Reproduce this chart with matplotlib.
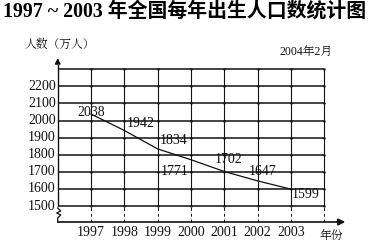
import matplotlib
matplotlib.use("Agg")
import matplotlib.pyplot as plt
import numpy as np

years = [1997, 1998, 1999, 2000, 2001, 2002, 2003]
births = [2038, 1942, 1834, 1771, 1702, 1647, 1599]
y_ticks = [1500, 1600, 1700, 1800, 1900, 2000, 2100, 2200]
title = "1997 ~ 2003 年全国每年出生人口数统计图"
ylabel = "人数（万人）"
xlabel = "年份"
date_note = "2004年2月"

# label offsets (pixels) for each value label: (dx, dy, ha), va='center'
label_pos = [(0, 2, 'center'), (2, 6.5, 'left'), (2, 8, 'left'), (-30, -12, 'left'),
             (-9, 11.5, 'left'), (-9, 9, 'left'), (1, -5, 'left')]

W, H = 369, 242
fig = plt.figure(figsize=(W / 100, H / 100), dpi=100)
ax = fig.add_axes([0, 0, 1, 1])
ax.set_axis_off()

# pixel mapping
x0_px, px_per_year = 57.7, 33.3
y1500_px, px_per_100 = 206.0, 17.09
xlim = (1996 - x0_px / px_per_year, 1996 + (W - x0_px) / px_per_year)
ylim = (1500 - (H - y1500_px) / px_per_100 * 100, 1500 + y1500_px / px_per_100 * 100)
ax.set_xlim(*xlim)
ax.set_ylim(*ylim)

serif = ['Liberation Serif', 'Noto Serif CJK SC', 'Noto Sans CJK SC']
col = '#111111'

def py(v):  # pixels -> data units for y
    return v / px_per_100 * 100
def px(v):
    return v / px_per_year

x_axis_y = 1500 - py(16)
top = 2300
left = 1996
right = 2004

# horizontal grid lines
for v in y_ticks + [2300]:
    ax.plot([left, right], [v, v], color=col, lw=1.1, solid_capstyle='butt', zorder=2)
# vertical grid lines
for yr in range(1997, 2005):
    ax.plot([yr, yr], [1500, top], color=col, lw=0.8, zorder=2)
    ax.plot([yr, yr], [x_axis_y, 1500], color=col, lw=0.7, ls=(0, (3, 3)), zorder=2)
# intersection dots
gx, gy = np.meshgrid(range(1997, 2005), y_ticks + [2300])
ax.scatter(gx.ravel(), gy.ravel(), s=3, color=col, zorder=3, linewidths=0)

# left axis with break
zz_top = 1500 - py(2)
zz_bot = 1500 - py(12)
ax.plot([left, left], [1500, top + py(4)], color=col, lw=1.0, zorder=3)
ax.plot([left, left + px(3), left - px(1), left + px(3), left, left],
        [zz_top, zz_top - py(3), zz_top - py(5), zz_bot + py(3), zz_bot, x_axis_y],
        color=col, lw=0.9, zorder=3)
ax.annotate('', xy=(left, top + py(14)), xytext=(left, top + py(3)),
            arrowprops=dict(arrowstyle='-|>', color=col, lw=1.0,
                            mutation_scale=8), zorder=4)
# x axis
ax.plot([left, 2004.4], [x_axis_y, x_axis_y], color=col, lw=1.2, zorder=3)
ax.annotate('', xy=(1996 + px(348 - x0_px), x_axis_y), xytext=(2004.3, x_axis_y),
            arrowprops=dict(arrowstyle='-|>', color=col, lw=1.2,
                            mutation_scale=10), zorder=4)

# data line
ax.plot(years, births, color=col, lw=0.9, zorder=4)

# value labels
for yr, v, (dx, dy, ha) in zip(years, births, label_pos):
    ax.text(yr + px(dx), v + py(dy), str(v), ha=ha, va='center',
            fontsize=10, family=serif, color=col, zorder=5)

# y tick labels
for v in y_ticks:
    ax.text(left - px(2), v, str(v), ha='right', va='center',
            fontsize=10, family=serif, color=col)
# x tick labels
for yr in years:
    ax.text(yr, x_axis_y - py(4), str(yr), ha='center', va='top',
            fontsize=10, family=serif, color=col)

# other text
fig.text(3 / W, 1 - 12 / H, title, ha='left', va='center', fontsize=14.3,
         fontweight='bold', family=['Liberation Serif', 'Noto Sans CJK SC'], color='black')
fig.text(25 / W, 1 - 45 / H, ylabel, ha='left', va='center', fontsize=8.5,
         family=['Noto Serif CJK SC', 'Noto Sans CJK SC'], color=col)
fig.text(280 / W, 1 - 53 / H, date_note, ha='left', va='center', fontsize=8.5,
         family=serif, color=col)
fig.text(320 / W, 1 - 236 / H, xlabel, ha='left', va='center', fontsize=8.5,
         family=['Noto Serif CJK SC', 'Noto Sans CJK SC'], color=col)

fig.savefig('out.png', dpi=100, facecolor='white')
